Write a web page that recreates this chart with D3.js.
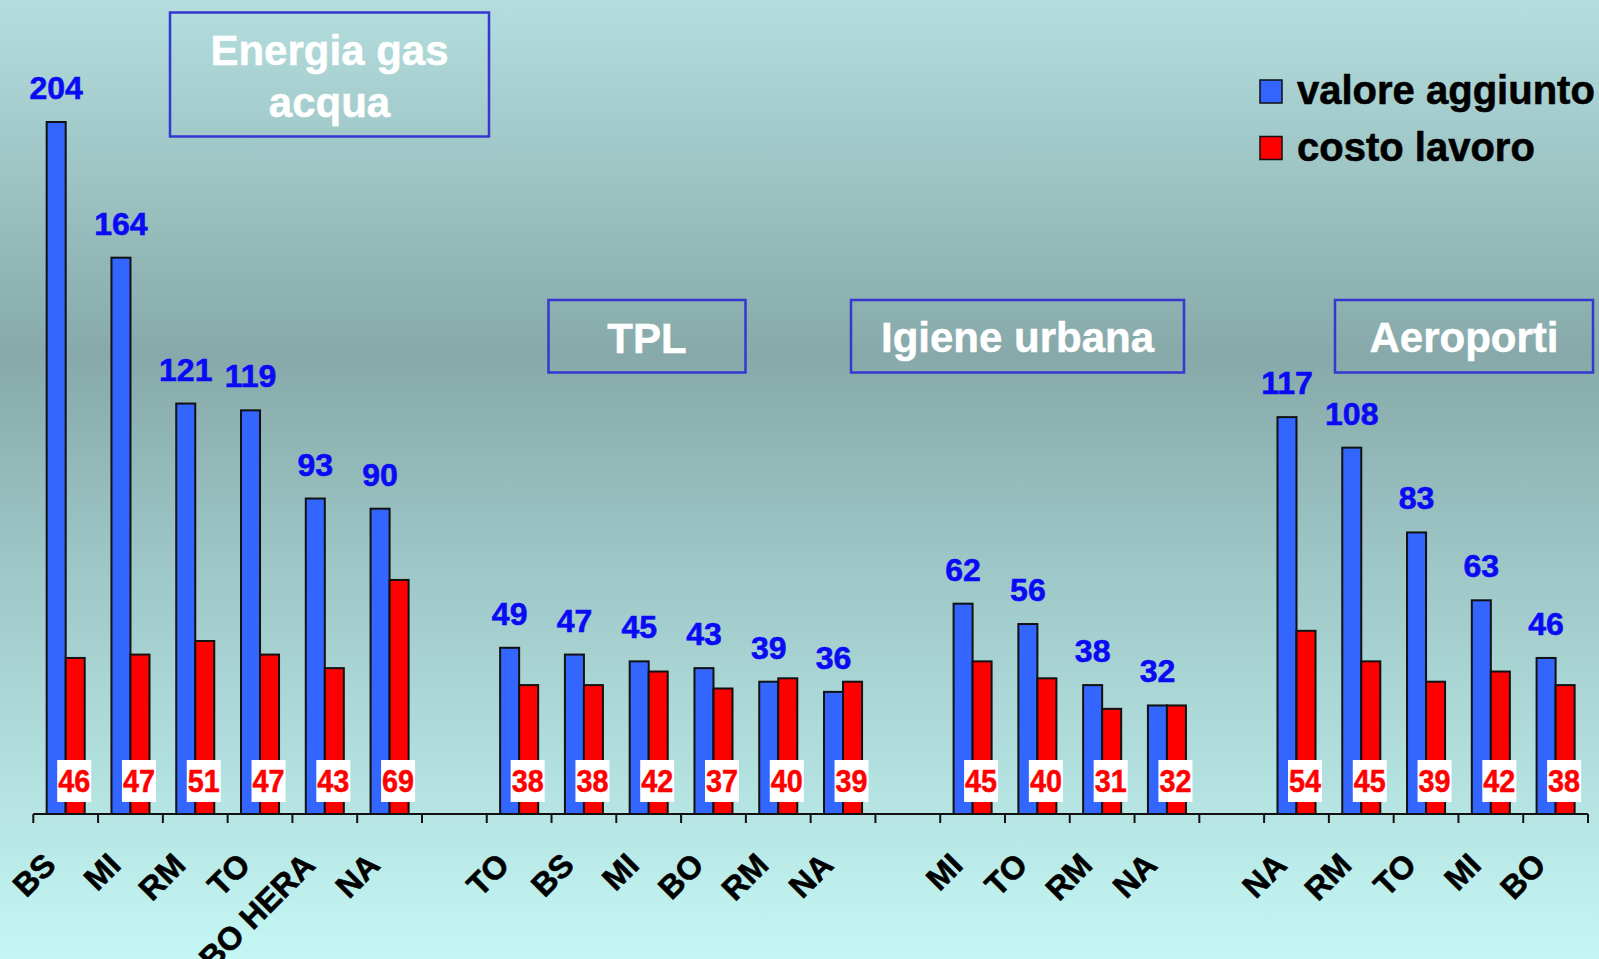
<!DOCTYPE html>
<html>
<head>
<meta charset="utf-8">
<script src="https://cdn.jsdelivr.net/npm/d3@7"></script>
<style>
  html, body { margin: 0; padding: 0; }
  svg { display: block; font-family: "Liberation Sans", Arial, sans-serif; font-weight: bold; }
</style>
</head>
<body>
<div id="app"></div>
<script>
const W = 1599, H = 959

// data, one block per sector
const sectors = ['Energia gas acqua', 'TPL', 'Igiene urbana', 'Aeroporti']
const energiaCities = ['BS', 'MI', 'RM', 'TO', 'BO HERA', 'NA']
const energiaValore = [204, 164, 121, 119, 93, 90]
const energiaCosto = [46, 47, 51, 47, 43, 69]
const tplCities = ['TO', 'BS', 'MI', 'BO', 'RM', 'NA']
const tplValore = [49, 47, 45, 43, 39, 36]
const tplCosto = [38, 38, 42, 37, 40, 39]
const igieneCities = ['MI', 'TO', 'RM', 'NA']
const igieneValore = [62, 56, 38, 32]
const igieneCosto = [45, 40, 31, 32]
const aeroportiCities = ['NA', 'RM', 'TO', 'MI', 'BO']
const aeroportiValore = [117, 108, 83, 63, 46]
const aeroportiCosto = [54, 45, 39, 42, 38]
const seriesNames = ['valore aggiunto', 'costo lavoro']
const seriesColors = ['#3366ff', '#ff0000']

// flatten into slots, with one empty slot between sectors
const blocks = [
  [energiaCities, energiaValore, energiaCosto],
  [tplCities, tplValore, tplCosto],
  [igieneCities, igieneValore, igieneCosto],
  [aeroportiCities, aeroportiValore, aeroportiCosto]
]
const slots = []
blocks.forEach(([cities, va, cl], b) => {
  if (b > 0) slots.push({ key: 'gap' + b, city: null })
  cities.forEach((c, i) => slots.push({ key: b + '-' + i, city: c, values: [va[i], cl[i]] }))
})

const svg = d3.select('#app')
  .append('svg')
  .attr('width', W)
  .attr('height', H)

// background
const grad = svg.append('defs').append('linearGradient')
  .attr('id', 'bg').attr('x1', 0).attr('y1', 0).attr('x2', 0).attr('y2', 1)
grad.selectAll('stop')
  .data([[0, '#b4dede'], [0.37, '#87a9a9'], [0.6, '#9fc8c8'], [1, '#c4f7f4']])
  .enter().append('stop')
  .attr('offset', d => d[0])
  .attr('stop-color', d => d[1])
svg.append('rect').attr('width', W).attr('height', H).attr('fill', 'url(#bg)')

const x = d3.scaleBand()
  .domain(slots.map(d => d.key))
  .range([33.3, 1588])
  .paddingInner(0.413)
  .paddingOuter(0.2065)

const xs = d3.scaleBand()
  .domain([0, 1])
  .range([0, x.bandwidth()])

const y = d3.scaleLinear()
  .domain([0, 204])
  .range([814, 122])

const filled = slots.filter(d => d.city)

const g = svg.selectAll('g.slot')
  .data(filled)
  .enter().append('g')
  .attr('class', 'slot')
  .attr('transform', d => `translate(${x(d.key)},0)`)

g.selectAll('rect')
  .data(d => d.values)
  .enter().append('rect')
  .attr('x', (v, i) => xs(i))
  .attr('y', v => y(v))
  .attr('width', xs.bandwidth())
  .attr('height', v => y(0) - y(v))
  .attr('fill', (v, i) => seriesColors[i])
  .attr('stroke', '#111')
  .attr('stroke-width', 2)

// blue labels above the blue bar
g.append('text')
  .attr('x', xs(0) + xs.bandwidth() / 2)
  .attr('y', d => y(d.values[0]) - 23)
  .attr('text-anchor', 'middle')
  .attr('font-size', 32)
  .attr('fill', '#0a0af5')
  .attr('stroke', '#0a0af5')
  .attr('stroke-width', 0.6)
  .text(d => d.values[0])

// red labels in white boxes near the axis
g.append('rect')
  .attr('x', xs(1) + xs.bandwidth() / 2 - 18)
  .attr('y', 760)
  .attr('width', 34)
  .attr('height', 42)
  .attr('fill', '#fff')

g.append('text')
  .attr('x', xs(1) + xs.bandwidth() / 2 - 1)
  .attr('y', 792)
  .attr('text-anchor', 'middle')
  .attr('font-size', 31)
  .attr('fill', '#ff0000')
  .attr('stroke', '#ff0000')
  .attr('stroke-width', 0.5)
  .attr('textLength', 32)
  .attr('lengthAdjust', 'spacingAndGlyphs')
  .text(d => d.values[1])

// axis
const axis = svg.append('g').attr('transform', `translate(0,${y(0)})`)
axis.append('line')
  .attr('x1', x.range()[0]).attr('x2', x.range()[1])
  .attr('stroke', '#111').attr('stroke-width', 2)
const tickXs = slots.map(d => x(d.key) - x.step() * x.paddingInner() / 2)
tickXs.push(x.range()[1])
axis.selectAll('line.tick')
  .data(tickXs)
  .enter().append('line')
  .attr('class', 'tick')
  .attr('x1', d => d).attr('x2', d => d)
  .attr('y1', 0).attr('y2', 9)
  .attr('stroke', '#111').attr('stroke-width', 2)

svg.selectAll('text.cat')
  .data(filled)
  .enter().append('text')
  .attr('class', 'cat')
  .attr('transform', d => `translate(${x(d.key) + x.bandwidth() / 2 - 8},867) rotate(-45)`)
  .attr('text-anchor', 'end')
  .attr('font-size', 32)
  .attr('fill', '#000')
  .attr('stroke', '#000')
  .attr('stroke-width', 0.6)
  .text(d => d.city)

// sector boxes
const boxes = [
  { x: 170, y: 12.5, w: 319, h: 124, lines: ['Energia gas', 'acqua'], base: 65 },
  { x: 548.5, y: 300, w: 197, h: 72.5, lines: ['TPL'], base: 352.5 },
  { x: 851, y: 300, w: 333, h: 72.5, lines: ['Igiene urbana'], base: 352 },
  { x: 1335, y: 300, w: 258, h: 72.5, lines: ['Aeroporti'], base: 352 }
]
boxes.forEach((b, i) => {
  svg.append('rect')
    .attr('x', b.x).attr('y', b.y).attr('width', b.w).attr('height', b.h)
    .attr('fill', 'none').attr('stroke', '#3636d0').attr('stroke-width', 2.5)
  svg.append('text')
    .attr('x', b.x + b.w / 2)
    .attr('y', b.base)
    .attr('text-anchor', 'middle')
    .attr('font-size', 42)
    .attr('fill', '#fff')
    .attr('stroke', '#fff')
    .attr('stroke-width', 0.5)
    .selectAll('tspan')
    .data(b.lines)
    .enter().append('tspan')
    .attr('x', b.x + b.w / 2)
    .attr('dy', (d, j) => j === 0 ? 0 : 52)
    .text(d => d)
})

// legend
const legend = svg.selectAll('g.legend')
  .data(seriesNames)
  .enter().append('g')
  .attr('class', 'legend')
  .attr('transform', (d, i) => `translate(1260,${80 + i * 56.5})`)
legend.append('rect')
  .attr('width', 22).attr('height', 23)
  .attr('fill', (d, i) => seriesColors[i])
  .attr('stroke', '#111').attr('stroke-width', 1.5)
legend.append('text')
  .attr('x', 37).attr('y', 24)
  .attr('font-size', 40)
  .attr('fill', '#000')
  .attr('stroke', '#000')
  .attr('stroke-width', 0.6)
  .text(d => d)
</script>
</body>
</html>
